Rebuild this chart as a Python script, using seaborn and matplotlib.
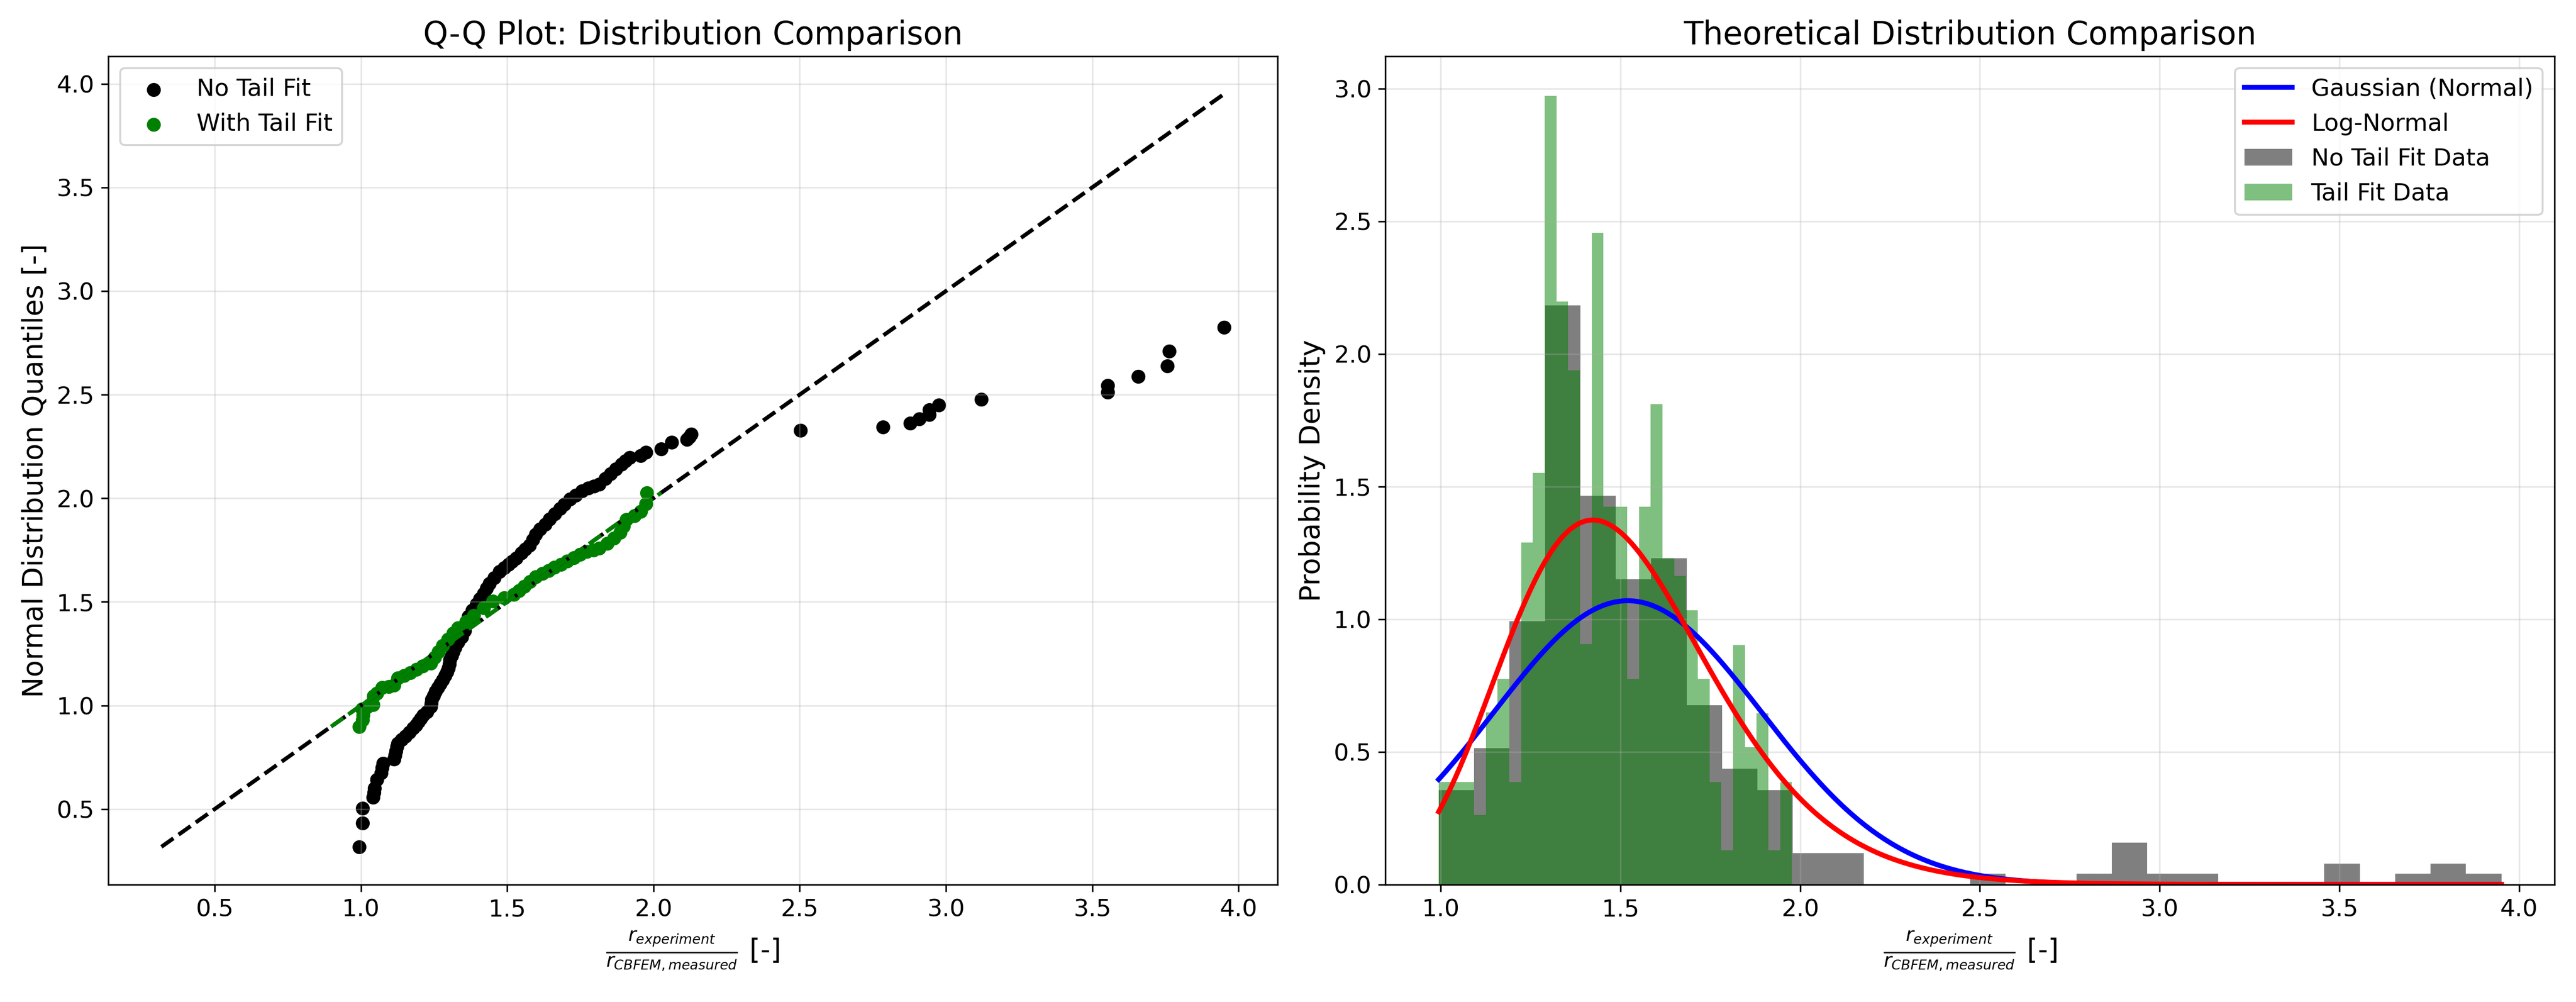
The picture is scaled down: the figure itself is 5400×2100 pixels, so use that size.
import numpy as np
import pandas as pd
import matplotlib
matplotlib.use('Agg')
import matplotlib.pyplot as plt
from matplotlib.patches import Patch
import seaborn as sns

no_tail_ratio = [0.994, 1.006, 1.006, 1.041, 1.045, 1.047, 1.054, 1.070, 1.072, 1.075,
                 1.114, 1.117, 1.119, 1.123, 1.127, 1.140, 1.152, 1.165, 1.179, 1.188,
                 1.196, 1.205, 1.212, 1.225, 1.239, 1.240, 1.242, 1.248, 1.255, 1.263,
                 1.272, 1.280, 1.288, 1.294, 1.299, 1.302, 1.304, 1.310, 1.315, 1.322,
                 1.331, 1.345, 1.355, 1.362, 1.368, 1.380, 1.395, 1.407, 1.420, 1.430,
                 1.440, 1.455, 1.473, 1.490, 1.505, 1.516, 1.530, 1.549, 1.562, 1.576,
                 1.588, 1.598, 1.612, 1.630, 1.645, 1.663, 1.680, 1.696, 1.715, 1.734,
                 1.755, 1.777, 1.797, 1.815, 1.835, 1.853, 1.872, 1.891, 1.905, 1.919,
                 1.957, 1.975, 2.027, 2.062, 2.115, 2.122, 2.130, 2.503, 2.785, 2.878,
                 2.909, 2.943, 2.943, 2.976, 3.120, 3.553, 3.553, 3.657, 3.756, 3.763,
                 3.951]
no_tail_quant = [0.318, 0.433, 0.504, 0.556, 0.580, 0.601, 0.643, 0.675, 0.700, 0.721,
                 0.740, 0.760, 0.780, 0.800, 0.818, 0.835, 0.851, 0.870, 0.890, 0.905,
                 0.921, 0.936, 0.952, 0.970, 0.994, 1.010, 1.028, 1.048, 1.067, 1.086,
                 1.105, 1.124, 1.143, 1.162, 1.182, 1.200, 1.220, 1.240, 1.259, 1.280,
                 1.305, 1.330, 1.360, 1.400, 1.430, 1.460, 1.490, 1.515, 1.540, 1.565,
                 1.589, 1.615, 1.645, 1.665, 1.680, 1.695, 1.710, 1.735, 1.755, 1.773,
                 1.800, 1.825, 1.850, 1.875, 1.900, 1.925, 1.950, 1.970, 1.995, 2.015,
                 2.035, 2.050, 2.058, 2.068, 2.095, 2.119, 2.140, 2.165, 2.180, 2.196,
                 2.205, 2.222, 2.238, 2.270, 2.283, 2.295, 2.310, 2.327, 2.343, 2.362,
                 2.382, 2.403, 2.426, 2.449, 2.477, 2.511, 2.544, 2.588, 2.638, 2.710,
                 2.825]

tail_ratio = [0.994, 1.006, 1.008, 1.004, 1.020, 1.041, 1.043, 1.055, 1.073, 1.095,
              1.114, 1.127, 1.148, 1.168, 1.190, 1.211, 1.239, 1.252, 1.265, 1.280,
              1.298, 1.315, 1.332, 1.360, 1.386, 1.420, 1.451, 1.490, 1.522, 1.540,
              1.559, 1.578, 1.597, 1.620, 1.641, 1.662, 1.684, 1.706, 1.728, 1.750,
              1.772, 1.795, 1.815, 1.842, 1.865, 1.886, 1.897, 1.908, 1.935, 1.957,
              1.975, 1.977]
tail_quant = [0.898, 0.930, 0.952, 0.982, 0.993, 1.003, 1.044, 1.060, 1.086, 1.092,
              1.098, 1.132, 1.145, 1.159, 1.175, 1.190, 1.205, 1.232, 1.259, 1.290,
              1.320, 1.350, 1.375, 1.405, 1.435, 1.470, 1.504, 1.520, 1.535, 1.555,
              1.574, 1.597, 1.620, 1.636, 1.651, 1.666, 1.681, 1.697, 1.712, 1.728,
              1.743, 1.750, 1.758, 1.781, 1.808, 1.835, 1.865, 1.897, 1.915, 1.935,
              1.973, 2.027]

# Histogramas (densidade por bin, 30 bins cada)
no_tail_range = (0.994, 3.951)
no_tail_density = [0.355, 0.514, 0.992, 2.182, 1.465, 1.151, 1.229, 0.676, 0.436, 0.355,
                   0.118, 0.118, 0.0, 0.0, 0.0, 0.040, 0.0, 0.0, 0.040, 0.158,
                   0.040, 0.040, 0.0, 0.0, 0.0, 0.079, 0.0, 0.040, 0.079, 0.040]
tail_range = (0.994, 1.977)
tail_density = [0.386, 0.386, 0.386, 0.262, 0.649, 0.775, 0.386, 1.289, 1.552, 2.973,
                2.198, 1.938, 0.905, 2.457, 1.424, 1.424, 0.775, 1.424, 1.810, 1.229,
                1.163, 1.033, 0.775, 0.386, 0.128, 0.903, 0.517, 0.645, 0.128, 0.386]

# Parametros ajustados das distribuicoes teoricas
gauss_mu, gauss_sigma = 1.52, 0.373
lognorm_mu, lognorm_sigma = 0.393, 0.200

xlabel = r'$\frac{r_{experiment}}{r_{CBFEM,measured}}$ [-]'

fig, (ax1, ax2) = plt.subplots(1, 2, figsize=(18, 7))

# --- Q-Q plot ---
sns.scatterplot(x=no_tail_ratio, y=no_tail_quant, color='black', edgecolor='black',
                s=36, linewidth=1, label='No Tail Fit', ax=ax1)
sns.scatterplot(x=tail_ratio, y=tail_quant, color='green', edgecolor='green',
                s=36, linewidth=1, label='With Tail Fit', ax=ax1)

lo = min(min(no_tail_ratio), min(no_tail_quant))
hi = max(max(no_tail_ratio), max(no_tail_quant))
ax1.plot([lo, hi], [lo, hi], 'k--', lw=2)
lo_t = min(min(tail_ratio), min(tail_quant))
hi_t = max(max(tail_ratio), max(tail_quant))
ax1.plot([lo_t, hi_t], [lo_t, hi_t], 'g--', lw=2)

ax1.set_title('Q-Q Plot: Distribution Comparison', fontsize=16)
ax1.set_xlabel(xlabel, fontsize=14)
ax1.set_ylabel('Normal Distribution Quantiles [-]', fontsize=14)
ax1.legend(loc='upper left', fontsize=12)
ax1.grid(True, alpha=0.3)
ax1.tick_params(labelsize=12)

# --- Distribuicoes teoricas ---
edges_nt = np.linspace(no_tail_range[0], no_tail_range[1], len(no_tail_density) + 1)
edges_t = np.linspace(tail_range[0], tail_range[1], len(tail_density) + 1)
df_nt = pd.DataFrame({'centro': (edges_nt[:-1] + edges_nt[1:]) / 2,
                      'densidade': no_tail_density})
df_t = pd.DataFrame({'centro': (edges_t[:-1] + edges_t[1:]) / 2,
                     'densidade': tail_density})

sns.histplot(data=df_nt, x='centro', weights='densidade', bins=edges_nt.tolist(),
             color='black', alpha=0.5, linewidth=0, ax=ax2)
sns.histplot(data=df_t, x='centro', weights='densidade', bins=edges_t.tolist(),
             color='green', alpha=0.5, linewidth=0, ax=ax2)

xs = np.linspace(no_tail_range[0], no_tail_range[1], 500)
pdf_gauss = np.exp(-0.5 * ((xs - gauss_mu) / gauss_sigma) ** 2) / (gauss_sigma * np.sqrt(2 * np.pi))
pdf_logn = np.exp(-0.5 * ((np.log(xs) - lognorm_mu) / lognorm_sigma) ** 2) / (xs * lognorm_sigma * np.sqrt(2 * np.pi))

l1, = ax2.plot(xs, pdf_gauss, color='blue', lw=2.5, label='Gaussian (Normal)')
l2, = ax2.plot(xs, pdf_logn, color='red', lw=2.5, label='Log-Normal')

handles = [l1, l2,
           Patch(facecolor='black', alpha=0.5, label='No Tail Fit Data'),
           Patch(facecolor='green', alpha=0.5, label='Tail Fit Data')]
ax2.legend(handles=handles, loc='upper right', fontsize=12)

ax2.set_title('Theoretical Distribution Comparison', fontsize=16)
ax2.set_xlabel(xlabel, fontsize=14)
ax2.set_ylabel('Probability Density', fontsize=14)
ax2.grid(True, alpha=0.3)
ax2.tick_params(labelsize=12)

plt.tight_layout()
plt.savefig('out.png', dpi=300)
